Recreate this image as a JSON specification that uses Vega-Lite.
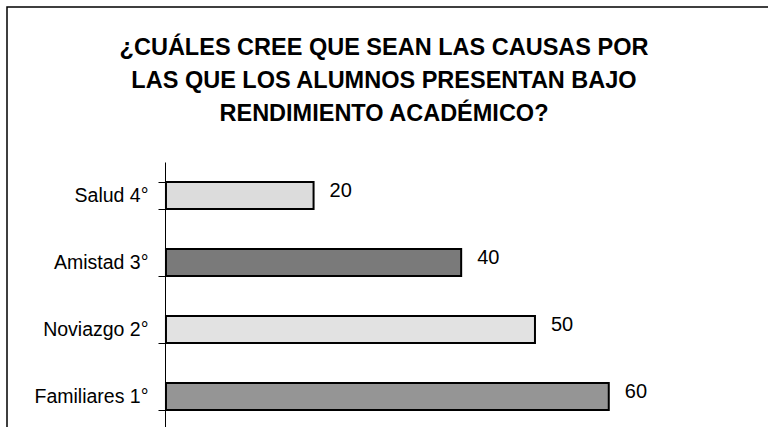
{
  "$schema": "https://vega.github.io/schema/vega-lite/v6.json",
  "autosize": "none",
  "padding": {"left": 7, "top": 7, "right": 0, "bottom": 0},
  "width": 780,
  "height": 450,
  "background": "white",
  "title": {
    "text": ["¿CUÁLES CREE QUE SEAN LAS CAUSAS POR", "LAS QUE LOS ALUMNOS PRESENTAN BAJO", "RENDIMIENTO ACADÉMICO?"],
    "font": "Liberation Sans",
    "fontSize": 23.5,
    "fontWeight": "bold",
    "color": "black",
    "lineHeight": 33,
    "offset": -128,
    "dx": -13,
    "anchor": "middle"
  },
  "data": {
    "values": [
      {"causa": "Salud 4°", "valor": 20},
      {"causa": "Amistad 3°", "valor": 40},
      {"causa": "Noviazgo 2°", "valor": 50},
      {"causa": "Familiares 1°", "valor": 60}
    ]
  },
  "encoding": {
    "y": {
      "field": "causa",
      "type": "nominal",
      "sort": ["Salud 4°", "Amistad 3°", "Noviazgo 2°", "Familiares 1°"],
      "scale": {"range": [155, 423], "paddingInner": 0.6, "paddingOuter": 0.3},
      "axis": {
        "title": null,
        "offset": -158,
        "tickBand": "extent",
        "tickSize": 7,
        "tickColor": "black",
        "domainColor": "black",
        "labelColor": "black",
        "labelFont": "Liberation Sans",
        "labelFontSize": 19.5,
        "labelPadding": 10,
        "grid": false
      }
    },
    "x": {
      "field": "valor",
      "type": "quantitative",
      "scale": {"domain": [-21.54, 84.15], "nice": false},
      "axis": null
    }
  },
  "layer": [
    {
      "mark": {"type": "bar", "stroke": "black", "strokeWidth": 2},
      "encoding": {
        "x2": {"datum": 0},
        "color": {
          "field": "causa",
          "type": "nominal",
          "scale": {
            "domain": ["Salud 4°", "Amistad 3°", "Noviazgo 2°", "Familiares 1°"],
            "range": ["#dcdcdc", "#7a7a7a", "#e2e2e2", "#959595"]
          },
          "legend": null
        }
      }
    },
    {
      "mark": {"type": "text", "align": "left", "dx": 16, "dy": -5, "fontSize": 20, "font": "Liberation Sans", "color": "black"},
      "encoding": {"text": {"field": "valor"}}
    }
  ],
  "config": {"view": {"stroke": "black", "strokeWidth": 1.5}}
}
